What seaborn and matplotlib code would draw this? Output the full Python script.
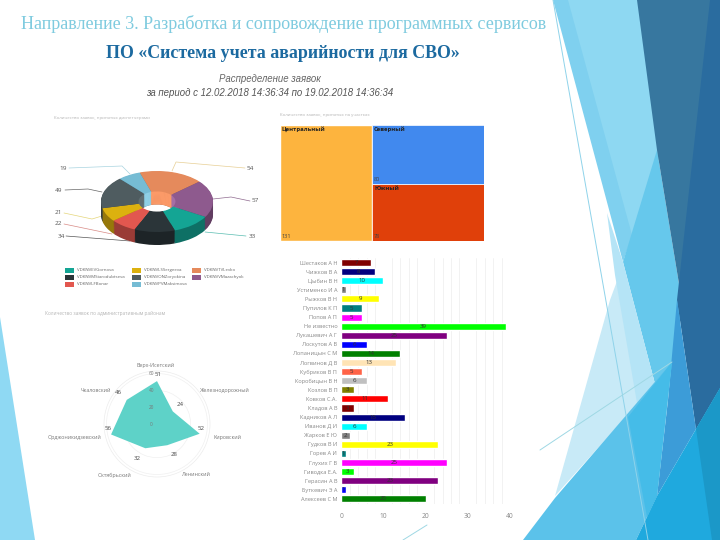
import numpy as np
import pandas as pd
import matplotlib
matplotlib.use("Agg")
import matplotlib.pyplot as plt
from matplotlib.patches import Polygon, Rectangle
import seaborn as sns

W, H = 720, 540

# dispatchers (donut), clockwise from the orange slice
disp_names = ["VDKNVTVLevko", "VDKNVVMazachyok", "VDKNVEVGornova", "VDKNVMStarodubtseva",
              "VDKNVLFBonar", "VDKNVLSSergeeva", "VDKNVONZoryokina", "VDKNVPVMaksimova"]
disp_values = [54, 57, 33, 34, 22, 21, 49, 19]
disp_colors = ["#e58a5c", "#8e5a8e", "#14a594", "#2b3539", "#e2574f", "#dcb10f", "#4f5c60", "#76bcd4"]
disp_walls = ["#fb9a68", "#a56ea5", "#1cbcaa", "#3c484d", "#f06a60", "#eec322", "#5f6e72", "#8fd0e6"]

# sections (treemap)
sect_names = ["Центральный", "Северный", "Южный"]
sect_values = [131, 80, 78]
sect_colors = ["#fdb43e", "#4189ee", "#e0400a"]

# districts (radar)
dist_names = ["Верх-Исетский", "Железнодорожный", "Кировский", "Ленинский",
              "Октябрьский", "Орджоникидзевский", "Чкаловский"]
dist_values = [51, 24, 52, 28, 32, 56, 46]

# workers (bars)
work_names = ["Шестаков А Н", "Чижков В А", "Цыбин В Н", "Устименко И А", "Рыжков В Н", "Пупилов К П",
              "Попов А П", "Не известно", "Лукашевич А Г", "Лоскутов А В", "Лопаницын С М", "Логвинов Д В",
              "Кубриков В П", "Коробицын В Н", "Козлов В П", "Ковков С.А.", "Кладов А В", "Кадников А Л",
              "Иванов Д И", "Жарков Е Ю", "Гудков В И", "Горев А И", "Глухих Г В", "Гиводка Е.А.",
              "Герасин А В", "Буткевич Э А", "Алексеев С М"]
work_values = [7, 8, 10, 1, 9, 5, 5, 39, 25, 6, 14, 13, 5, 6, 3, 11, 3, 15, 6, 2, 23, 1, 25, 3, 23, 1, 20]
work_colors = ["#800000", "#000080", "#00ffff", "#808080", "#ffff00", "#008080", "#ff00ff", "#00ff00", "#800080",
               "#0000ff", "#008000", "#ffe4b5", "#ff6347", "#c0c0c0", "#808000", "#ff0000", "#800000", "#000080",
               "#00ffff", "#808080", "#ffff00", "#008080", "#ff00ff", "#00ff00", "#800080", "#0000ff", "#008000"]


def box(x0, y0, x1, y1, **kw):
    # axes from a pixel box, y counted from the top
    return fig.add_axes([x0 / W, 1 - y1 / H, (x1 - x0) / W, (y1 - y0) / H], **kw)


def txt(x, y, s, **kw):
    kw.setdefault("va", "center")
    fig.text(x / W, 1 - y / H, s, **kw)


sns.set_theme(style="white")
plt.rcParams["font.family"] = ["Open Sans", "DejaVu Sans"]
fig = plt.figure(figsize=(7.2, 5.4), dpi=100, facecolor="white")

# slide background
bg = box(0, 0, W, H)
bg.set_xlim(0, W)
bg.set_ylim(H, 0)
bg.axis("off")
shapes = [
    ("#8fd9f3", [(0, 317), (35, 540), (0, 540)]),
    ("#7fd0ef", [(553, 0), (640, 0), (660, 155), (623, 262)]),
    ("#8ed8f2", [(568, 0), (640, 0), (660, 155), (632, 235)]),
    ("#66c8ec", [(657, 150), (680, 290), (680, 360), (655, 384), (623, 262)]),
    ("#37779f", [(637, 0), (720, 0), (720, 388), (696, 429), (680, 290), (657, 150)]),
    ("#2a6c9f", [(710, 0), (720, 0), (720, 388), (696, 429), (677, 300)]),
    ("#c8eaf7", [(623, 265), (655, 384), (555, 496), (610, 300)]),
    ("#b5e4f6", [(607, 213), (623, 262), (655, 384), (637, 403), (615, 275)]),
    ("#3c9cd8", [(677, 300), (696, 429), (657, 496), (668, 400)]),
    ("#5bc2ea", [(523, 540), (555, 498), (672, 362), (657, 496), (636, 540)]),
    ("#45bce8", [(628, 417), (672, 362), (657, 496), (647, 517)]),
    ("#1fa9de", [(696, 429), (720, 388), (720, 540), (636, 540), (657, 496)]),
    ("#1b98c8", [(696, 429), (720, 388), (720, 540), (712, 540)]),
]
for c, pts in shapes:
    bg.add_patch(Polygon(pts, closed=True, fc=c, ec="none"))
bg.plot([553, 648], [0, 540], color="#8fd3ea", lw=0.7)
bg.plot([540, 672], [450, 362], color="#9fd8e4", lw=0.7)
bg.plot([403, 427], [540, 525], color="#9fd8e4", lw=0.7)

# headings
txt(284, 24, "Направление 3. Разработка и сопровождение программных сервисов", ha="center",
    family="Liberation Serif", fontsize=13.0, color="#7fcbdf")
txt(283, 53, "ПО «Система учета аварийности для СВО»", ha="center",
    family="Liberation Serif", fontsize=12.9, fontweight="bold", color="#1c6aa0")
txt(270, 79, "Распределение заявок", ha="center", family="Liberation Sans", style="italic", fontsize=6.9, color="#666666")
txt(270, 93, "за период с 12.02.2018 14:36:34 по 19.02.2018 14:36:34", ha="center",
    family="Liberation Sans", style="italic", fontsize=6.9, color="#555555")

txt(54, 118, "Количество заявок, принятых диспетчерами", fontsize=3.2, color="#b5b5b5")
txt(280, 115, "Количество заявок, принятых на участках", fontsize=3.2, color="#b5b5b5")
txt(45, 313, "Количество заявок по административным районам", fontsize=3.4, color="#b5b5b5")

# donut, squashed pie with copies underneath for the walls
depth = 13 / 30.5
ax = box(101, 171, 213, 245)
dark = [tuple(np.array(matplotlib.colors.to_rgb(c)) * 0.68) for c in disp_colors]
for d in np.linspace(depth, 0.02, 14):
    ax.pie(disp_values, colors=dark, startangle=108, counterclock=False, center=(0, -d),
           wedgeprops={"width": 0.67, "linewidth": 0})
# thin inner rings, only the far side shows through the hole
for d in np.linspace(depth, 0.02, 14):
    ax.pie(disp_values, colors=disp_walls, startangle=108, counterclock=False, center=(0, -d), radius=0.38,
           wedgeprops={"width": 0.05, "linewidth": 0})
ax.pie(disp_values, colors=disp_colors, startangle=108, counterclock=False,
       wedgeprops={"width": 0.67, "linewidth": 0})
ax.set_aspect("auto")
ax.set_xlim(-1, 1)
ax.set_ylim(-1 - depth, 1)
ax.patch.set_alpha(0)

leaders = [
    ("19", 63, 168, [(69, 168), (122, 166), (130, 174)], "#a8d4e0"),
    ("49", 59, 190, [(65, 190), (88, 189), (102, 192)], "#666666"),
    ("21", 58, 213, [(64, 213), (92, 219), (102, 216)], "#e5d67a"),
    ("22", 58, 224, [(64, 224), (112, 234)], "#d88a85"),
    ("34", 61, 236, [(66, 236), (130, 241)], "#555555"),
    ("54", 250, 168, [(245, 168), (176, 162), (172, 171)], "#e7cf95"),
    ("57", 255, 201, [(250, 201), (231, 197), (213, 199)], "#8f6a8f"),
    ("33", 252, 236, [(246, 236), (205, 232)], "#58bcb0"),
]
for lab, lx, ly, pts, c in leaders:
    xs, ys = zip(*pts)
    bg.plot(xs, ys, color=c, lw=0.5)
    txt(lx, ly, lab, ha="center", fontsize=4.6, color="#555555")

# legend rows of the donut
legend_order = [2, 5, 0, 3, 6, 1, 4, 7]
legend_x = [65, 132, 192]
legend_y = [270, 277, 284]
for k, i in enumerate(legend_order):
    x = legend_x[k % 3]
    y = legend_y[k // 3]
    bg.add_patch(Rectangle((x, y - 2.5), 9, 5, fc=disp_colors[i], ec="none"))
    txt(x + 12, y, disp_names[i], fontsize=3.2, color="#666666")

# treemap
ax = box(280, 125, 484, 241)
total = sum(sect_values)
right = sect_values[1] + sect_values[2]
ax.bar(0, 1, width=sect_values[0], align="edge", color=sect_colors[0])
ax.bar(sect_values[0], sect_values[2] / right, width=right, align="edge", color=sect_colors[2], ec="white", lw=0.5)
ax.bar(sect_values[0], sect_values[1] / right, width=right, bottom=sect_values[2] / right, align="edge",
       color=sect_colors[1], ec="white", lw=0.5)
ax.set_xlim(0, total)
ax.set_ylim(0, 1)
ax.axis("off")
for x, y, n, v, vy in [(281, 129, sect_names[0], sect_values[0], 237), (374, 129, sect_names[1], sect_values[1], 180),
                       (374, 188, sect_names[2], sect_values[2], 237)]:
    txt(x, y, n, fontsize=4.2, fontweight="bold", color="#222222")
    txt(x, vy, str(v), fontsize=4.0, color="#444444")

# radar
ax = box(104, 371, 210, 477, projection="polar")
theta = np.arange(len(dist_values)) * 2 * np.pi / len(dist_values)
ax.set_theta_zero_location("N")
ax.set_theta_direction(-1)
ax.fill(theta, dist_values, color="#5ed2c8", lw=0)
ax.set_ylim(0, 63)
ax.set_yticks([0, 20, 40, 60])
ax.set_yticklabels([])
ax.set_xticks(theta)
ax.set_xticklabels([])
ax.xaxis.grid(False)
ax.yaxis.grid(True, color="#f0f0f0", lw=0.5)
ax.spines["polar"].set_color("#ececec")
ax.spines["polar"].set_linewidth(0.5)
ax.patch.set_alpha(0)
for r in [0, 20, 40, 60]:
    ax.annotate(str(r), (0, r), xytext=(-4, 0), textcoords="offset points", ha="center", va="center",
                fontsize=3.4, color="#777777")
dist_pos = [(156, 365), (225, 390), (227, 437), (196, 475), (115, 475), (74, 437), (96, 390)]
val_pos = [(158, 374), (180, 404), (201, 428), (174, 455), (137, 458), (108, 429), (118, 392)]
for n, v, (x, y), (vx, vy) in zip(dist_names, dist_values, dist_pos, val_pos):
    txt(x, y, n, ha="center", fontsize=3.8, color="#777777")
    txt(vx, vy, str(v), ha="center", fontsize=4.4, color="#444444")

# bars by worker
df = pd.DataFrame({"name": work_names, "value": work_values})
ax = box(341.3, 258, 513, 503.5)
sns.barplot(data=df, x="value", y="name", hue="name", palette=work_colors, legend=False, width=0.78, ax=ax, saturation=1)
ax.set_xlim(0, 40.7)
ax.set_xlabel("")
ax.set_ylabel("")
ax.set_xticks(range(0, 41, 10))
ax.set_xticks(range(0, 41, 2), minor=True)
ax.grid(axis="x", which="minor", color="#f0f0f0", lw=0.6)
ax.set_axisbelow(True)
ax.tick_params(axis="x", which="both", length=0, labelsize=4.8, labelcolor="#888888", pad=7)
ax.tick_params(axis="y", length=0, labelsize=4.1, labelcolor="#888888", pad=3)
sns.despine(ax=ax, left=True, bottom=True)
ax.patch.set_alpha(0)
for i, v in enumerate(work_values):
    ax.text(v / 2, i, str(v), ha="center", va="center", fontsize=4.4, color="#333333")

fig.savefig("out.png", dpi=100)
